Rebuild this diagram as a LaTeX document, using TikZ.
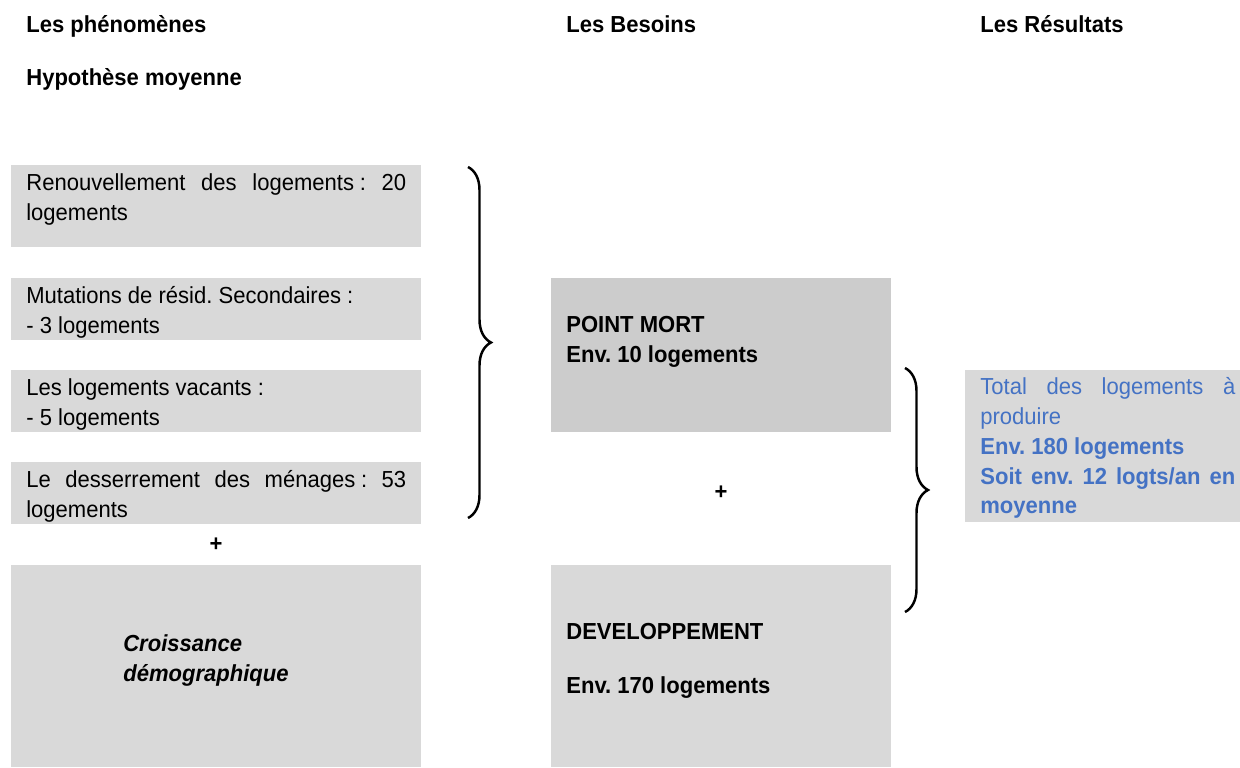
\documentclass[tikz,border=0pt]{standalone}
\usepackage{fontspec}
\setmainfont[FakeStretch=0.95]{Liberation Sans}
\usetikzlibrary{positioning,decorations.pathreplacing}
\definecolor{boxGray}{HTML}{D9D9D9}
\definecolor{darkGray}{HTML}{CCCCCC}
\definecolor{resBlue}{HTML}{4472C4}
\frenchspacing

\begin{document}
\begin{tikzpicture}[x=0.02cm,y=-0.02cm,every text node part/.style={align=left}]
\tikzset{myFont/.style={font=\fontsize{13.2pt}{17pt}\selectfont}}
\tikzset{myBoldFont/.style={font=\fontsize{13.2pt}{17pt}\selectfont\bfseries}}
\tikzset{myBox/.style={draw=none,fill=boxGray,anchor=north west,inner sep=0pt}}
\tikzset{myText/.style={myFont,inner sep=0pt,anchor=north west}}
\tikzset{myBold/.style={myBoldFont,inner sep=0pt,anchor=north west}}
\tikzset{myBrace/.style={decorate,decoration={brace,amplitude=0.46cm},line width=1.4pt}}

\useasboundingbox (0,0) rectangle (1240,767);

% headings
\node[myBold,anchor=base west] (phen) at (26,33) {Les phénomènes};
\node[myBold,anchor=base west] (besoins) at (566,33) {Les Besoins};
\node[myBold,anchor=base west] (resultats) at (980,33) {Les Résultats};
\node[myBold,anchor=base west] (hypo) at (26,86) {Hypothèse moyenne};

% left column
\node[myBox,minimum width=8.2cm,minimum height=1.64cm] (renouv) at (11,165) {};
\node[myText,below right=0.16cm and 0.3cm of renouv.north west] (renouvT)
  {\makebox[7.6cm][s]{Renouvellement des logements\hspace{0.25em}: 20}\\logements};
\node[myBox,minimum width=8.2cm,minimum height=1.24cm] (mutation) at (11,278) {};
\node[myText,below right=0.16cm and 0.3cm of mutation.north west] (mutationT)
  {Mutations de résid. Secondaires :\\- 3 logements};
\node[myBox,minimum width=8.2cm,minimum height=1.24cm] (vacants) at (11,370) {};
\node[myText,below right=0.16cm and 0.3cm of vacants.north west] (vacantsT)
  {Les logements vacants :\\- 5 logements};
\node[myBox,minimum width=8.2cm,minimum height=1.24cm] (desser) at (11,462) {};
\node[myText,below right=0.16cm and 0.3cm of desser.north west] (desserT)
  {\makebox[7.6cm][s]{Le desserrement des ménages\hspace{0.25em}: 53}\\logements};
\node[myBold,anchor=center] (plus1) at (216,545) {+};
\node[myBox,minimum width=8.2cm,minimum height=4.04cm] (croiss) at (11,565) {};
\node[myBold,below right=1.38cm and 2.24cm of croiss.north west] (croissT)
  {\itshape Croissance\\\itshape démographique};

% middle column
\node[myBox,fill=darkGray,minimum width=6.8cm,minimum height=3.08cm] (pointmort) at (551,278) {};
\node[myBold,below right=0.76cm and 0.3cm of pointmort.north west] (pointmortT)
  {POINT MORT\\Env. 10 logements};
\node[myBold,anchor=center] (plus2) at (721,493) {+};
\node[myBox,minimum width=6.8cm,minimum height=4.04cm] (devel) at (551,565) {};
\node[myBold,below right=1.16cm and 0.3cm of devel.north west] (develT)
  {DEVELOPPEMENT\\[0.48cm]Env. 170 logements};

% right column
\node[myBox,minimum width=5.5cm,minimum height=3.04cm] (total) at (965,370) {};
\node[myText,text=resBlue,below right=0.14cm and 0.3cm of total.north west] (totalT)
  {\makebox[5.1cm][s]{Total des logements à}\\produire\\
   \textbf{Env. 180 logements}\\
   \makebox[5.1cm][s]{\bfseries Soit env. 12 logts/an en}\\
   \textbf{moyenne}};

% braces
\coordinate (b1top) at (468,167);
\coordinate (b1bot) at (468,518);
\draw[myBrace] (b1top) -- (b1bot);
\coordinate (b2top) at (905,368);
\coordinate (b2bot) at (905,612);
\draw[myBrace] (b2top) -- (b2bot);

\end{tikzpicture}
\end{document}
